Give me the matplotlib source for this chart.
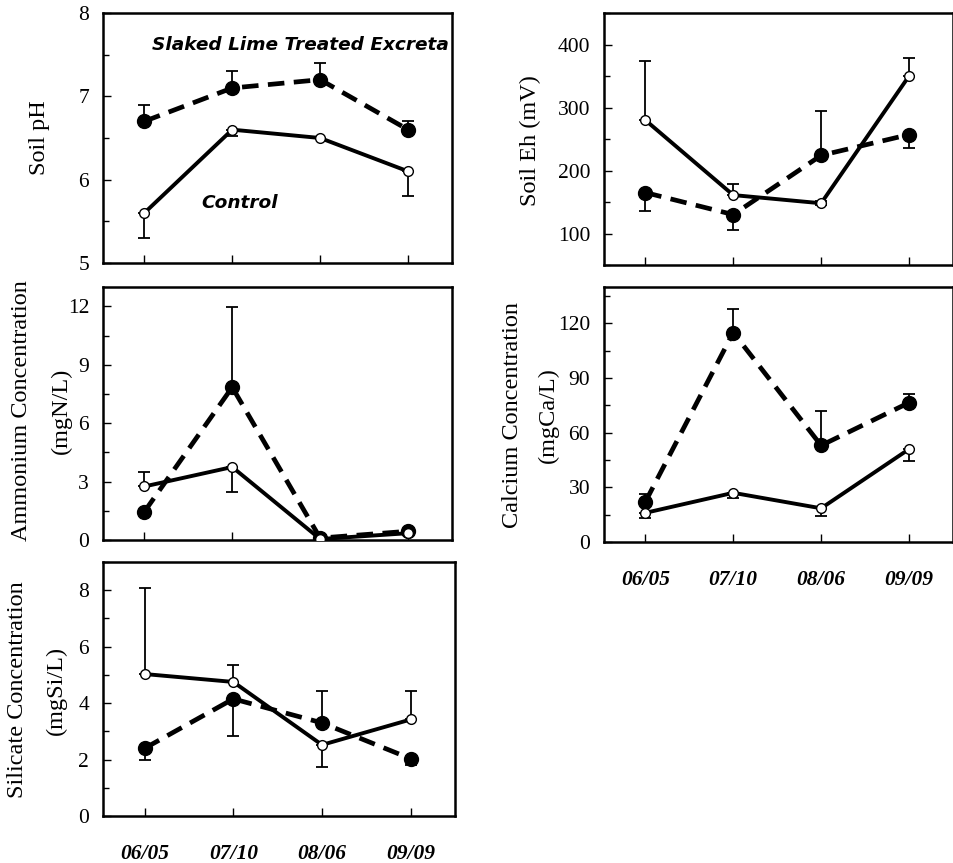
import numpy as np
import matplotlib
matplotlib.use("Agg")
import matplotlib.pyplot as plt
from matplotlib.ticker import MultipleLocator

dates = ["06/05", "07/10", "08/06", "09/09"]

# control (open circles, solid line) and slaked lime treated (filled, dashed)
ph_ctrl = [5.6, 6.6, 6.5, 6.1]
ph_ctrl_lo = [0.3, 0.08, 0.0, 0.3]
ph_ctrl_hi = [0.0, 0.0, 0.0, 0.0]
ph_trt = [6.7, 7.1, 7.2, 6.6]
ph_trt_lo = [0.0, 0.0, 0.0, 0.0]
ph_trt_hi = [0.2, 0.2, 0.2, 0.1]

eh_ctrl = [280, 161, 148, 350]
eh_ctrl_lo = [0, 0, 3, 0]
eh_ctrl_hi = [94, 18, 3, 29]
eh_trt = [165, 130, 224, 257]
eh_trt_lo = [30, 24, 0, 22]
eh_trt_hi = [0, 0, 71, 0]

nh4_ctrl = [2.75, 3.75, 0.05, 0.35]
nh4_ctrl_lo = [0.0, 1.3, 0.0, 0.0]
nh4_ctrl_hi = [0.75, 0.0, 0.0, 0.0]
nh4_trt = [1.45, 7.85, 0.1, 0.45]
nh4_trt_lo = [0.0, 0.0, 0.0, 0.0]
nh4_trt_hi = [0.0, 4.1, 0.0, 0.1]

ca_ctrl = [16, 27, 18.5, 51]
ca_ctrl_lo = [3, 3, 4, 6.5]
ca_ctrl_hi = [0, 0, 0, 0]
ca_trt = [22, 115, 53, 76.5]
ca_trt_lo = [0, 0, 0, 0]
ca_trt_hi = [4.5, 13, 19, 4.5]

si_ctrl = [5.03, 4.75, 2.52, 3.42]
si_ctrl_lo = [0.0, 0.0, 0.8, 0.0]
si_ctrl_hi = [3.05, 0.6, 0.0, 1.0]
si_trt = [2.4, 4.15, 3.3, 2.03]
si_trt_lo = [0.42, 1.3, 0.0, 0.22]
si_trt_hi = [0.0, 0.0, 1.12, 0.0]

W, H = 954, 863
fig = plt.figure(figsize=(W / 100, H / 100), dpi=100)


def box(left, top, right, bottom):
    return [left / W, 1 - bottom / H, (right - left) / W, (bottom - top) / H]


serif = "Liberation Serif"


def panel(rect, ctrl, ctrl_err, trt, trt_err, ylim, major, show_x=False):
    ax = fig.add_axes(rect)
    x = np.arange(len(dates))
    ax.errorbar(x, trt, yerr=trt_err, fmt="none", ecolor="black",
                elinewidth=1.3, capsize=4, capthick=1.3, zorder=2)
    ax.errorbar(x, ctrl, yerr=ctrl_err, fmt="none", ecolor="black",
                elinewidth=1.3, capsize=4, capthick=1.3, zorder=2)
    ax.plot(x, trt, color="black", lw=3.4, ls=(0, (3.5, 2.0)), marker="o",
            ms=10, mfc="black", mec="black", zorder=3)
    ax.plot(x, ctrl, color="black", lw=2.8, ls="-", marker="o",
            ms=7, mfc="white", mec="black", mew=1, zorder=4)
    ax.set_xlim(-0.47, 3.5)
    ax.set_ylim(*ylim)
    ax.yaxis.set_major_locator(MultipleLocator(major))
    ax.yaxis.set_minor_locator(MultipleLocator(major / 2))
    ax.set_xticks(x)
    ax.tick_params(axis="both", which="both", direction="in", right=False, top=False)
    ax.tick_params(axis="y", which="major", length=6, width=1, pad=10)
    ax.tick_params(axis="y", which="minor", length=4, width=1)
    ax.tick_params(axis="x", length=6, width=1, pad=20)
    if show_x:
        ax.set_xticklabels(dates, fontfamily=serif, fontweight="bold",
                           fontstyle="italic", fontsize=15.5)
    else:
        ax.set_xticklabels([])
    for lab in ax.get_yticklabels():
        lab.set_fontfamily(serif)
        lab.set_fontsize(15.5)
    for s in ax.spines.values():
        s.set_linewidth(1.8)
    return ax


ax1 = panel(box(103, 13, 452, 263), ph_ctrl, [ph_ctrl_lo, ph_ctrl_hi],
            ph_trt, [ph_trt_lo, ph_trt_hi], (5, 8), 1)
ax2 = panel(box(604, 13, 953, 265), eh_ctrl, [eh_ctrl_lo, eh_ctrl_hi],
            eh_trt, [eh_trt_lo, eh_trt_hi], (50, 450), 100)
ax3 = panel(box(103, 287, 452, 540), nh4_ctrl, [nh4_ctrl_lo, nh4_ctrl_hi],
            nh4_trt, [nh4_trt_lo, nh4_trt_hi], (0, 13), 3)
ax4 = panel(box(604, 287, 953, 542), ca_ctrl, [ca_ctrl_lo, ca_ctrl_hi],
            ca_trt, [ca_trt_lo, ca_trt_hi], (0, 140), 30, show_x=True)
ax5 = panel(box(103, 562, 455, 816), si_ctrl, [si_ctrl_lo, si_ctrl_hi],
            si_trt, [si_trt_lo, si_trt_hi], (0, 9), 2, show_x=True)


def ylab(x, y, text):
    fig.text(x / W, 1 - y / H, text, rotation=90, ha="center", va="center",
             fontfamily=serif, fontsize=17.5)


ylab(40, 138, "Soil pH")
ylab(530, 141, "Soil Eh (mV)")
ylab(22, 411, "Ammonium Concentration")
ylab(61, 411, "(mgN/L)")
ylab(513, 415, "Calcium Concentration")
ylab(548, 415, "(mgCa/L)")
ylab(18, 690, "Silicate Concentration")
ylab(56, 690, "(mgSi/L)")

ax1.text(300 / W, 1 - 45 / H, "Slaked Lime Treated Excreta", transform=fig.transFigure,
         ha="center", va="center", fontfamily="DejaVu Sans", fontweight="bold",
         fontstyle="italic", fontsize=13.3)
ax1.text(240 / W, 1 - 203 / H, "Control", transform=fig.transFigure,
         ha="center", va="center", fontfamily="DejaVu Sans", fontweight="bold",
         fontstyle="italic", fontsize=13.3)

fig.savefig("out.png", dpi=100)
